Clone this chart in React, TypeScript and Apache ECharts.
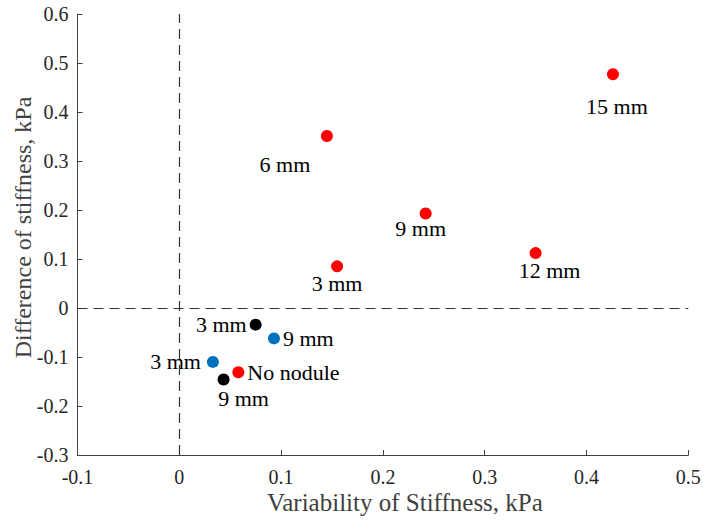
import React, { useEffect, useRef } from "react";
import * as echarts from "echarts";

// ---- data ----
const xTicks = { min: -0.1, max: 0.5, interval: 0.1 };
const yTicks = { min: -0.3, max: 0.6, interval: 0.1 };

const redNames = ["15 mm", "6 mm", "9 mm", "12 mm", "3 mm", "No nodule"];
const redX = [0.426, 0.145, 0.242, 0.35, 0.155, 0.058];
const redY = [0.477, 0.351, 0.193, 0.112, 0.085, -0.131];

const blueNames = ["9 mm", "3 mm"];
const blueX = [0.093, 0.033];
const blueY = [-0.062, -0.11];

const blackNames = ["3 mm", "9 mm"];
const blackX = [0.075, 0.0435];
const blackY = [-0.034, -0.146];

const xTitle = "Variability of Stiffness, kPa";
const yTitle = "Difference of stiffness, kPa";

// ---- label placement (style only) ----
type LP = { align: "left" | "center" | "right"; offset: [number, number] };
const redLabelPos: LP[] = [
  { align: "center", offset: [4, 32] },
  { align: "center", offset: [-42, 28] },
  { align: "center", offset: [-5, 15] },
  { align: "center", offset: [14, 17] },
  { align: "center", offset: [0, 17] },
  { align: "left", offset: [9, 0] },
];
const blueLabelPos: LP[] = [
  { align: "left", offset: [9, 0] },
  { align: "right", offset: [-12, 0] },
];
const blackLabelPos: LP[] = [
  { align: "right", offset: [-9, 0] },
  { align: "center", offset: [20, 19] },
];

const FONT = "Liberation Serif";

function build(names: string[], xs: number[], ys: number[], pos: LP[]) {
  return names.map((n, i) => ({
    value: [xs[i], ys[i]],
    name: n,
    label: {
      show: true,
      formatter: n,
      position: "inside",
      align: pos[i].align,
      verticalAlign: "middle",
      offset: pos[i].offset,
      color: "#000",
      opacity: 1,
      fontFamily: FONT,
      fontSize: 22,
    },
  }));
}

export default function App() {
  const ref = useRef<HTMLDivElement>(null);
  useEffect(() => {
    if (!ref.current) return;
    const chart = echarts.init(ref.current, undefined, { renderer: "svg" });
    const axisColor = "#404040";
    chart.setOption({
      animation: false,
      backgroundColor: "#fff",
      grid: {
        left: 77.5,
        top: 14,
        right: 18.7,
        bottom: 67,
        containLabel: false,
        outerBoundsMode: "none",
      },
      xAxis: {
        type: "value",
        min: xTicks.min,
        max: xTicks.max,
        interval: xTicks.interval,
        name: xTitle,
        nameLocation: "middle",
        nameGap: 35,
        nameMoveOverlap: false,
        nameTextStyle: { fontFamily: FONT, fontSize: 25, color: "#404040", padding: [0, 0, 0, 44] },
        axisLine: { show: true, onZero: false, lineStyle: { color: axisColor, width: 1 } },
        axisTick: { show: true, inside: true, length: 5, lineStyle: { color: axisColor } },
        axisLabel: { fontFamily: FONT, fontSize: 20, color: "#262626", margin: 12 },
        splitLine: { show: false },
      },
      yAxis: {
        type: "value",
        min: yTicks.min,
        max: yTicks.max,
        interval: yTicks.interval,
        name: yTitle,
        nameLocation: "middle",
        nameGap: 43,
        nameMoveOverlap: false,
        nameTextStyle: { fontFamily: FONT, fontSize: 24, color: "#404040", padding: [0, 0, 0, 14] },
        axisLine: { show: true, onZero: false, lineStyle: { color: axisColor, width: 1 } },
        axisTick: { show: true, inside: true, length: 5, lineStyle: { color: axisColor } },
        axisLabel: { fontFamily: FONT, fontSize: 20, color: "#262626", margin: 9 },
        splitLine: { show: false },
      },
      series: [
        {
          type: "scatter",
          symbolSize: 12,
          itemStyle: { color: "#ff0000", opacity: 1 },
          data: build(redNames, redX, redY, redLabelPos),
          markLine: {
            silent: true,
            symbol: ["none", "none"],
            label: { show: false },
            lineStyle: { color: "#333", width: 1.2, type: [10, 6], opacity: 1 },
            data: [{ xAxis: 0 }, { yAxis: 0 }],
          },
          z: 3,
        },
        {
          type: "scatter",
          symbolSize: 12,
          itemStyle: { color: "#0072bd", opacity: 1 },
          data: build(blueNames, blueX, blueY, blueLabelPos),
          z: 3,
        },
        {
          type: "scatter",
          symbolSize: 12,
          itemStyle: { color: "#000000", opacity: 1 },
          data: build(blackNames, blackX, blackY, blackLabelPos),
          z: 3,
        },
      ],
    });
    return () => chart.dispose();
  }, []);
  return (
    <div
      ref={ref}
      style={{ position: "absolute", left: 0, top: 0, width: 707, height: 522, background: "#fff" }}
    />
  );
}
